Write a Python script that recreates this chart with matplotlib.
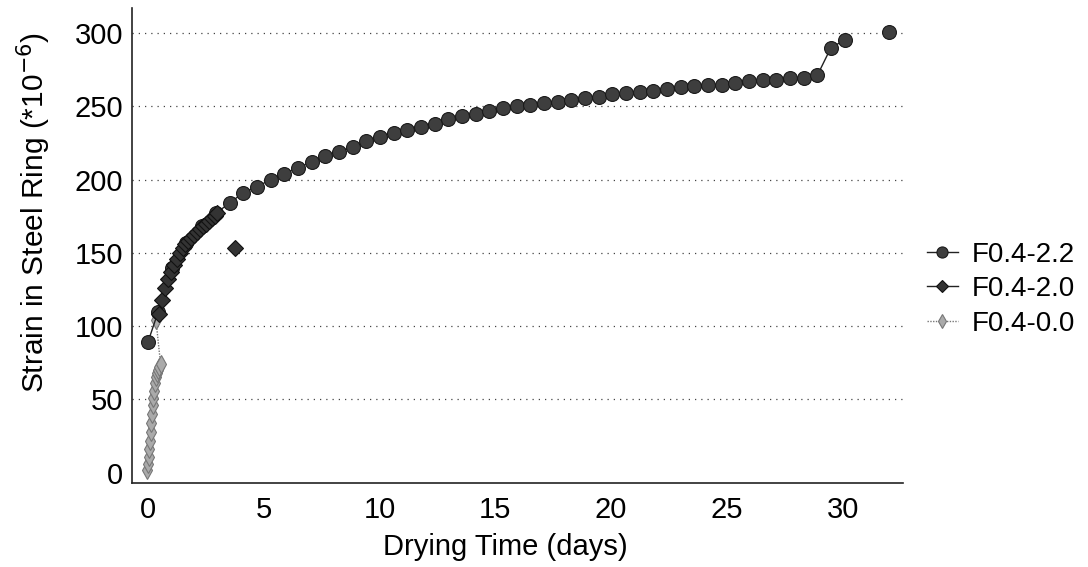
import numpy as np
import matplotlib
matplotlib.use("Agg")
import matplotlib.pyplot as plt

plt.rcParams['font.family'] = ['Liberation Sans', 'DejaVu Sans']

# ---- data ----
days_22 = [0.0, 0.45, 1.05, 1.65, 2.35, 2.94, 3.53, 4.12, 4.71, 5.30, 5.89, 6.48,
           7.07, 7.66, 8.25, 8.84, 9.43, 10.02, 10.61, 11.20, 11.79, 12.38, 12.97,
           13.56, 14.15, 14.74, 15.33, 15.92, 16.51, 17.10, 17.69, 18.28, 18.87,
           19.46, 20.05, 20.64, 21.23, 21.82, 22.41, 23.00, 23.59, 24.18, 24.77,
           25.36, 25.95, 26.54, 27.13, 27.72, 28.31, 28.90, 29.49, 30.08, np.nan, 32.0]
strain_22 = [89, 110, 140, 157, 168, 177, 184, 191, 195, 200, 204, 208,
             212, 216, 219, 222, 226, 229, 232, 234, 236, 238, 241,
             243, 245, 247, 248.5, 250, 251, 252, 253, 254, 255.5,
             256.5, 258, 259, 260, 260.5, 261.5, 263, 263.5, 264.5, 264.5,
             266, 267, 268, 268, 269, 269.5, 271, 290, 295, np.nan, 300.5]

days_20 = [0.50, 0.62, 0.75, 0.88, 1.00, 1.12, 1.25, 1.38, 1.50, 1.62, 1.75, 1.88,
           2.00, 2.12, 2.25, 2.38, 2.50, 2.62, 2.75, 2.88, 3.00, np.nan, 3.76]
strain_20 = [108, 118, 126, 132, 137, 142, 146, 150, 153, 156, 158, 160,
             162, 164, 166, 168, 170, 172, 174, 175, 177, np.nan, 153]

days_00 = [-0.05, 0.0, 0.03, 0.06, 0.09, 0.12, 0.15, 0.18, 0.21, 0.24, 0.27,
           0.30, 0.34, 0.38, 0.43, 0.48, 0.55, 0.35]
strain_00 = [2, 6, 11, 16, 22, 28, 34, 40, 46, 51, 56,
             61, 65, 68, 70, 72, 74, 104]

labels = ['F0.4-2.2', 'F0.4-2.0', 'F0.4-0.0']
yticks = [0, 50, 100, 150, 200, 250, 300]
xticks = [0, 5, 10, 15, 20, 25, 30]

# ---- plot ----
FS = 21
fig = plt.figure(figsize=(10.88, 5.67), dpi=100)
ax = fig.add_axes([0.121, 0.148, 0.709, 0.838])

for y in yticks[1:]:
    ax.axhline(y, color='#444444', lw=0.9, ls=(0, (1, 4)), zorder=0)

ax.plot(days_00, strain_00, color='#777777', lw=1.0, ls=(0, (1, 1)),
        marker='d', ms=9, mfc='#aaaaaa', mec='#777777', mew=0.8, label=labels[2], zorder=2)
ax.plot(days_22, strain_22, color='#222222', lw=1.0,
        marker='o', ms=10, mfc='#3e3e3e', mec='#1a1a1a', mew=0.8, label=labels[0], zorder=3)
ax.plot(days_20, strain_20, color='#222222', lw=1.0,
        marker='D', ms=8, mfc='#333333', mec='#111111', mew=0.8, label=labels[1], zorder=4)

ax.set_xlim(-0.7, 32.6)
ax.set_ylim(-7, 317)
ax.set_xticks(xticks)
ax.set_yticks(yticks)
ax.tick_params(length=0, labelsize=FS)
ax.tick_params(axis='x', pad=9)
ax.tick_params(axis='y', pad=6)
for s in ['top', 'right']:
    ax.spines[s].set_visible(False)
for s in ['left', 'bottom']:
    ax.spines[s].set_linestyle((0, (1, 1)))
    ax.spines[s].set_color('#222222')
    ax.spines[s].set_linewidth(1.2)

ax.set_xlabel('Drying Time (days)', fontsize=FS)
ax.set_ylabel('Strain in Steel Ring (*10$^{-6}$)', fontsize=21.5)
ax.xaxis.set_label_coords(0.484, -0.105)
ax.yaxis.set_label_coords(-0.102, 0.57)

h, l = ax.get_legend_handles_labels()
hd = dict(zip(l, h))
fig.legend([hd[k] for k in labels], labels, loc='center left',
           bbox_to_anchor=(0.829, 0.49), frameon=False, fontsize=20,
           handlelength=1.1, handletextpad=0.5, labelspacing=0.3, markerscale=0.8)

fig.savefig('out.png', dpi=100)
